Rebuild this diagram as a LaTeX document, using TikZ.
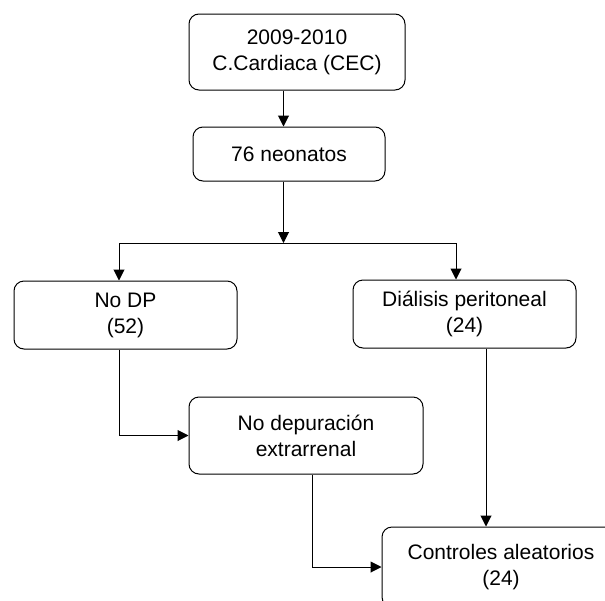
\documentclass[tikz,border=0pt]{standalone}
\usepackage{fontspec}
\setmainfont{Liberation Sans}
\usepackage{tikz}
\usetikzlibrary{positioning,arrows.meta,calc}
\tikzset{caja/.style={draw,line width=1pt,rounded corners=10pt,align=center,inner sep=0pt,font=\fontsize{21}{26}\selectfont}}
\tikzset{flecha/.style={-{Triangle[length=11pt,width=11pt]},line width=1pt}}
\tikzset{linea/.style={line width=1pt}}

\begin{document}
\begin{tikzpicture}[x=1pt,y=-1pt]
  \useasboundingbox (0,0) rectangle (605,600);
  \node[caja,minimum width=216pt,minimum height=76pt] (inicio) at (297,52) {2009-2010\\C.Cardiaca (CEC)};
  \node[caja,minimum width=192pt,minimum height=54pt] (neonatos) at (289,154) {76 neonatos};
  \node[caja,minimum width=223pt,minimum height=68pt] (nodp) at (125.5,315) {No DP\\(52)};
  \node[caja,minimum width=223pt,minimum height=68pt] (dialisis) at (464.5,314) {Diálisis peritoneal\\(24)};
  \node[caja,minimum width=234pt,minimum height=77pt] (nodep) at (306,435.5) {No depuración\\extrarrenal};
  \node[caja,minimum width=238pt,minimum height=80pt] (controles) at (501,567) {Controles aleatorios\\(24)};
  % reparto
  \coordinate (split) at (283.5,243);
  \coordinate (izq) at (119,243);
  \coordinate (der) at (456,243);
  \draw[flecha] (inicio.south -| split) -- (neonatos.north -| split);
  \draw[flecha] (neonatos.south -| split) -- (split);
  \draw[linea] (izq) -- (der);
  \draw[flecha] (izq) -- (izq |- nodp.north);
  \draw[flecha] (der) -- (der |- dialisis.north);
  % hacia los controles
  \draw[flecha] (nodp.south -| izq) |- (nodep.west);
  \draw[flecha] (nodep.south -| 312,0) |- (controles.west);
  \draw[flecha] (dialisis.south -| 486,0) -- (controles.north -| 486,0);
\end{tikzpicture}
\end{document}
